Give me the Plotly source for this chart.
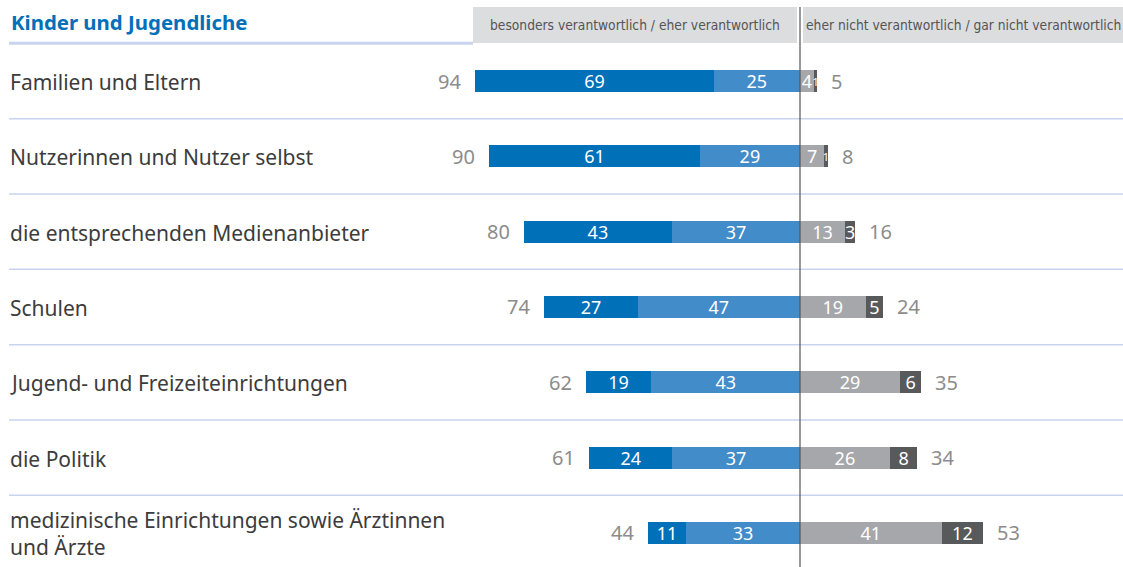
import plotly.graph_objects as go

categories = [
    "Familien und Eltern",
    "Nutzerinnen und Nutzer selbst",
    "die entsprechenden Medienanbieter",
    "Schulen",
    "Jugend- und Freizeiteinrichtungen",
    "die Politik",
    "medizinische Einrichtungen sowie Ärztinnen und Ärzte",
]
labels = [
    "Familien und Eltern",
    "Nutzerinnen und Nutzer selbst",
    "die entsprechenden Medienanbieter",
    "Schulen",
    "Jugend- und Freizeiteinrichtungen",
    "die Politik",
    "medizinische Einrichtungen sowie Ärztinnen<br>und Ärzte",
]
besonders = [69, 61, 43, 27, 19, 24, 11]
eher = [25, 29, 37, 47, 43, 37, 33]
eher_nicht = [4, 7, 13, 19, 29, 26, 41]
gar_nicht = [1, 1, 3, 5, 6, 8, 12]
total_left = [94, 90, 80, 74, 62, 61, 44]
total_right = [5, 8, 16, 24, 35, 34, 53]

title = "Kinder und Jugendliche"
header_left = "besonders verantwortlich / eher verantwortlich"
header_right = "eher nicht verantwortlich / gar nicht verantwortlich"

C_DBLUE = "#0070b8"
C_LBLUE = "#438cca"
C_LGRAY = "#a6a7ab"
C_DGRAY = "#58595b"
FONT = "Noto Sans"
W, H = 1123, 567

fig = go.Figure()

def add(vals, color, sign):
    fig.add_trace(go.Bar(
        y=categories, x=[sign * v for v in vals], orientation="h",
        marker=dict(color=color, line=dict(width=0)),
        text=[str(v) for v in vals], textposition="inside",
        insidetextanchor="middle", textangle=0, constraintext="none",
        textfont=dict(color="white", size=[11 if v < 2 else 18 for v in vals], family=FONT),
        width=0.29, hoverinfo="skip", showlegend=False, cliponaxis=False,
    ))

add(eher, C_LBLUE, -1)
add(besonders, C_DBLUE, -1)
add(eher_nicht, C_LGRAY, 1)
add(gar_nicht, C_DGRAY, 1)

ann = []
for c, lab, tl, tr in zip(categories, labels, total_left, total_right):
    ann.append(dict(x=8 / W, xref="paper", y=c, yref="y", text=lab,
                    xanchor="left", yanchor="middle", align="left", showarrow=False,
                    yshift=-1,
                    font=dict(size=21, color="#3c3c3c", family=FONT)))
    ann.append(dict(x=-tl, xref="x", y=c, yref="y", text=str(tl), xanchor="right",
                    xshift=-12, showarrow=False,
                    font=dict(size=20, color="#8c8c8c", family=FONT)))
    ann.append(dict(x=tr, xref="x", y=c, yref="y", text=str(tr), xanchor="left",
                    xshift=12, showarrow=False,
                    font=dict(size=20, color="#8c8c8c", family=FONT)))

ann.append(dict(x=9 / W, xref="paper", y=1 - 22 / H, yref="paper", text="<b>" + title + "</b>",
                xanchor="left", yanchor="middle", showarrow=False,
                font=dict(size=20.4, color=C_DBLUE, family=FONT)))
ann.append(dict(x=(473 + 797) / 2 / W, xref="paper", y=1 - 25 / H, yref="paper",
                text=header_left, xanchor="center", yanchor="middle", showarrow=False,
                font=dict(size=13.7, color="#555555", family="DejaVu Sans Condensed")))
ann.append(dict(x=(803 + 1123) / 2 / W, xref="paper", y=1 - 25 / H, yref="paper",
                text=header_right, xanchor="center", yanchor="middle", showarrow=False,
                font=dict(size=13.7, color="#555555", family="DejaVu Sans Condensed")))

shapes = []
shapes.append(dict(type="rect", xref="paper", yref="paper", x0=473 / W, x1=797 / W,
                   y0=1 - 43 / H, y1=1 - 7 / H, fillcolor="#dcdddf", line=dict(width=0), layer="below"))
shapes.append(dict(type="rect", xref="paper", yref="paper", x0=803 / W, x1=1,
                   y0=1 - 43 / H, y1=1 - 7 / H, fillcolor="#dcdddf", line=dict(width=0), layer="below"))
for i in range(-1, len(categories) - 1):
    shapes.append(dict(type="line", xref="paper", yref="y", x0=9 / W, x1=1 if i >= 0 else 473 / W,
                       y0=i + 0.5, y1=i + 0.5, line=dict(color="#c8d4ee", width=1.5 if i >= 0 else 3)))
shapes.append(dict(type="line", xref="x", yref="paper", x0=0, x1=0, y0=0, y1=1 - 7 / H,
                   line=dict(color="#555555", width=1.2)))

fig.update_layout(
    width=W, height=H, margin=dict(l=0, r=0, t=0, b=0),
    plot_bgcolor="white", paper_bgcolor="white",
    barmode="relative", bargap=0,
    xaxis=dict(range=[-800 / 3.455, 323 / 3.455], visible=False, fixedrange=True),
    yaxis=dict(categoryorder="array", categoryarray=categories,
               range=[(567 - 81) / 75.33, -81 / 75.33], visible=False, fixedrange=True),
    annotations=ann, shapes=shapes,
)

fig.write_html("out.html", config={"displayModeBar": False, "staticPlot": True},
               post_script="document.body.style.margin='0';document.body.style.overflow='hidden';")
